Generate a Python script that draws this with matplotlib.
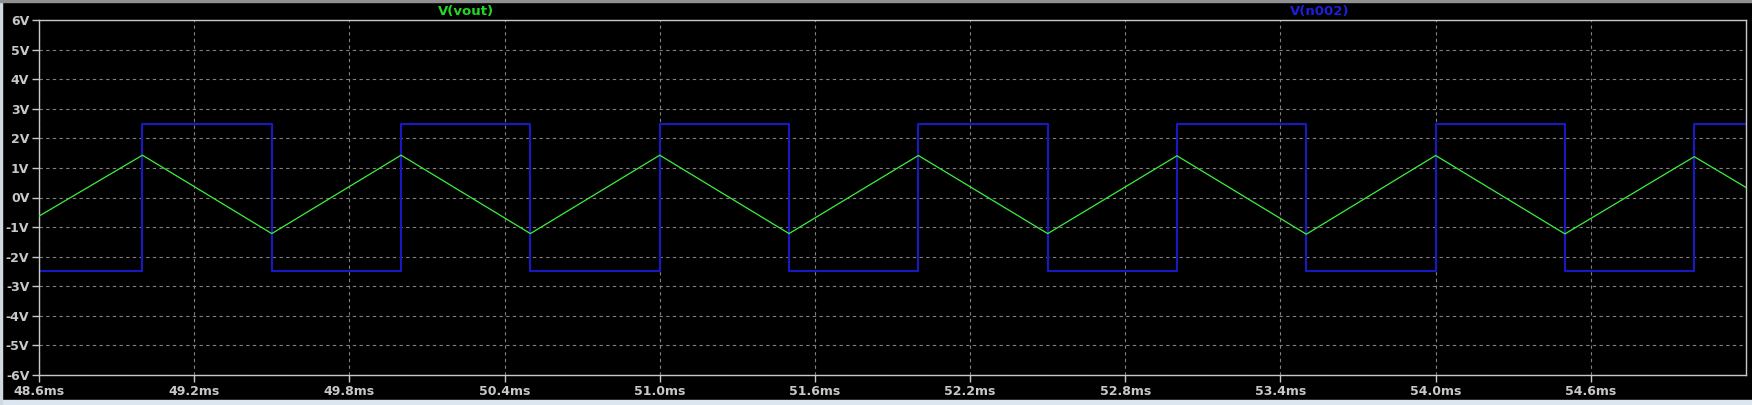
import matplotlib
matplotlib.use("Agg")
import matplotlib.pyplot as plt
from matplotlib.ticker import FuncFormatter

# V(vout): triangle wave, corner points (ms, V)
vout_t = [48.6, 49.0, 49.5, 50.0, 50.5, 51.0, 51.5, 52.0, 52.5,
          53.0, 53.5, 54.0, 54.5, 55.0, 55.2]
vout_v = [-0.63, 1.43, -1.22, 1.43, -1.22, 1.43, -1.22, 1.42, -1.22,
          1.41, -1.24, 1.42, -1.23, 1.38, 0.34]

# V(n002): square wave, step edges (ms) and levels (V)
n002_edges = [48.6, 49.0, 49.5, 50.0, 50.5, 51.0, 51.5, 52.0, 52.5,
              53.0, 53.5, 54.0, 54.5, 55.0, 55.2]
n002_levels = [-2.48, 2.47, -2.48, 2.47, -2.48, 2.47, -2.48, 2.47,
               -2.48, 2.47, -2.48, 2.47, -2.48, 2.47]

x_ticks = [48.6, 49.2, 49.8, 50.4, 51.0, 51.6, 52.2, 52.8, 53.4, 54.0, 54.6]
y_ticks = list(range(-6, 7))

fg = "#c8c8c8"
fig = plt.figure(figsize=(17.52, 4.05), dpi=100, facecolor="black")
ax = fig.add_axes([39 / 1752, 30 / 405, 1707 / 1752, 355 / 405])
ax.set_facecolor("black")

ax.plot(vout_t, vout_v, color="#3cf03c", lw=0.9, zorder=3)
# square wave drawn as steps from the edge list
sq_t, sq_v = [], []
for i, lv in enumerate(n002_levels):
    sq_t += [n002_edges[i], n002_edges[i + 1]]
    sq_v += [lv, lv]
ax.plot(sq_t, sq_v, color="#1818c4", lw=1.5, zorder=2)

ax.set_xlim(48.6, 55.2)
ax.set_ylim(-6, 6)
ax.set_xticks(x_ticks)
ax.set_yticks(y_ticks)
ax.xaxis.set_major_formatter(FuncFormatter(lambda v, p: f"{v:.1f}ms"))
ax.yaxis.set_major_formatter(FuncFormatter(lambda v, p: f"{v:.0f}V"))
ax.tick_params(colors=fg, labelsize=9, length=5, width=1, pad=2)
for lab in ax.get_xticklabels() + ax.get_yticklabels():
    lab.set_fontweight("bold")
    lab.set_color(fg)
for s in ax.spines.values():
    s.set_color(fg)
    s.set_linewidth(1)
ax.grid(True, color="#808080", lw=0.8, linestyle=(0, (3, 3)))

ax.text(0.25, 1.005, "V(vout)", transform=ax.transAxes, ha="center", va="bottom",
        color="#22d822", fontsize=9.5, fontweight="bold")
ax.text(0.75, 1.005, "V(n002)", transform=ax.transAxes, ha="center", va="bottom",
        color="#1e1ed8", fontsize=9.5, fontweight="bold")

# window frame
fig.add_artist(plt.Rectangle((0, 0), 1, 5 / 405, transform=fig.transFigure,
                             color="#dce6f0", zorder=0))
fig.add_artist(plt.Rectangle((0, 0), 2 / 1752, 1, transform=fig.transFigure,
                             color="#d0d8e0", zorder=0))
fig.add_artist(plt.Rectangle((0, 1 - 2 / 405), 1, 2 / 405, transform=fig.transFigure,
                             color="#909090", zorder=0))

fig.savefig("out.png", dpi=100, facecolor="black")
